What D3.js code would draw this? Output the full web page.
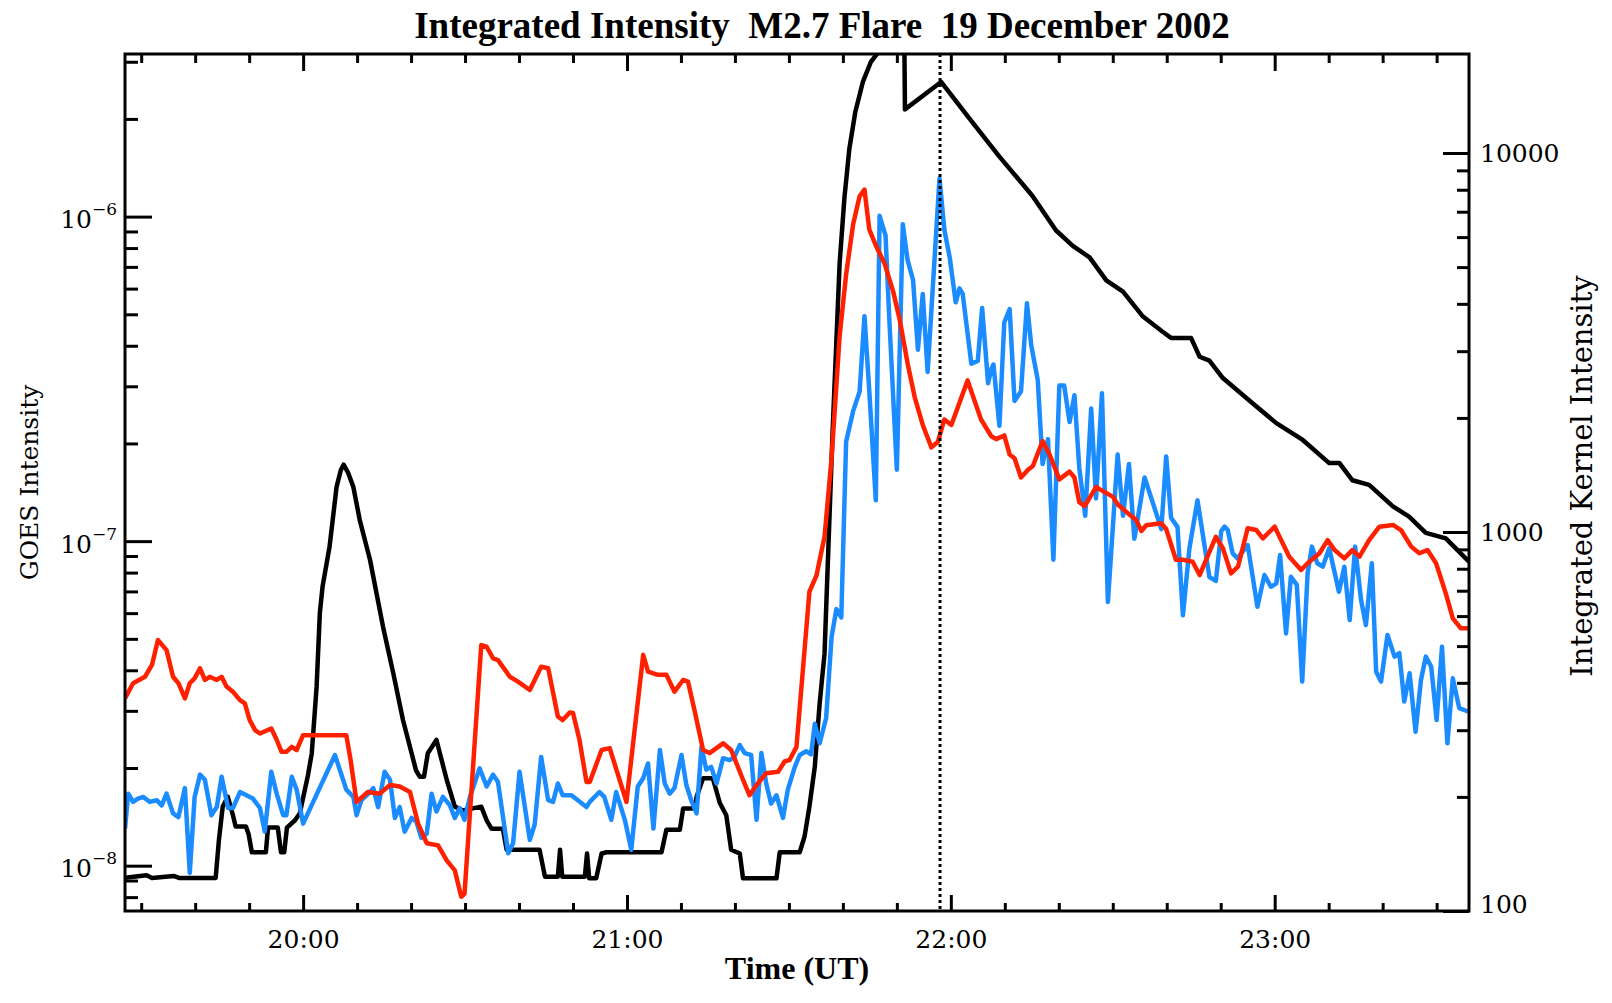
<!DOCTYPE html>
<html>
<head>
<meta charset="utf-8">
<script src="https://cdn.jsdelivr.net/npm/d3@7"></script>
<style>
  body { margin: 0; background: #fff; }
  svg { display: block; }
</style>
</head>
<body>
<svg id="chart" width="1612" height="1003"></svg>
<script>
// Time is in minutes after 19:00 UT, 19 Dec 2002
const timeRange = [27, 276];
const hourTicks = [60, 120, 180, 240];
const hourLabels = ['20:00', '21:00', '22:00', '23:00'];
const markerTime = 178; // dotted line, ~21:58

// GOES flux range (left axis) and kernel intensity range (right axis)
const goesRange = [7.25e-9, 3.17e-6];
const goesMajor = [1e-8, 1e-7, 1e-6];
const goesExponents = ['\u22128', '\u22127', '\u22126'];
const kernelRange = [100, 18250];
const kernelMajor = [100, 1000, 10000];

// GOES light curve [minute, W/m^2]
const goes = [
  [27.0, 9.17e-9], [31, 9.35e-9], [32, 9.17e-9], [36, 9.3e-9], [37, 9.17e-9], [43.8, 9.17e-9],
  [44.4, 1.20e-8], [45.1, 1.52e-8], [46.05, 1.63e-8], [47.0, 1.43e-8], [47.5, 1.32e-8], [49.4, 1.32e-8],
  [49.9, 1.25e-8], [50.5, 1.10e-8], [53.1, 1.10e-8], [53.5, 1.31e-8], [55.3, 1.31e-8], [55.9, 1.10e-8],
  [56.5, 1.10e-8], [57.0, 1.31e-8], [58.5, 1.38e-8], [59.4, 1.45e-8], [59.9, 1.59e-8], [60.9, 1.90e-8],
  [61.6, 2.22e-8], [62.5, 3.56e-8], [63.1, 6.01e-8], [63.6, 7.24e-8], [64.9, 9.62e-8], [66.2, 1.47e-7],
  [67.0, 1.66e-7], [67.5, 1.72e-7], [68.3, 1.63e-7], [69.3, 1.47e-7], [70.5, 1.16e-7], [72.4, 8.75e-8],
  [74.8, 5.45e-8], [76.7, 3.92e-8], [78.5, 2.81e-8], [80.1, 2.22e-8], [80.9, 1.97e-8], [81.6, 1.88e-8],
  [82.4, 1.88e-8], [83.1, 2.22e-8], [84.7, 2.44e-8], [86.6, 1.84e-8], [88.1, 1.52e-8], [89.6, 1.48e-8],
  [93.0, 1.52e-8], [94.0, 1.38e-8], [94.9, 1.30e-8], [97.0, 1.30e-8], [97.7, 1.12e-8], [103.8, 1.12e-8],
  [104.8, 9.25e-9], [107.2, 9.25e-9], [107.6, 1.12e-8], [108.0, 9.25e-9], [112.2, 9.25e-9], [112.6, 1.09e-8],
  [113.0, 9.14e-9], [114.3, 9.14e-9], [115.3, 1.09e-8], [116.2, 1.10e-8], [126.4, 1.10e-8], [127.3, 1.29e-8],
  [129.8, 1.29e-8], [130.4, 1.50e-8], [132.5, 1.50e-8], [132.9, 1.63e-8], [134.1, 1.86e-8], [135.9, 1.86e-8],
  [137.2, 1.56e-8], [138.4, 1.43e-8], [139.3, 1.12e-8], [140.9, 1.09e-8], [141.5, 9.14e-9], [147.7, 9.14e-9],
  [148.3, 1.10e-8], [152.0, 1.10e-8], [152.9, 1.23e-8], [153.8, 1.52e-8], [154.8, 2.02e-8], [155.7, 3.17e-8],
  [156.6, 4.50e-8], [158.1, 2.19e-7], [159.4, 7.19e-7], [160.3, 1.15e-6], [161.2, 1.62e-6], [162.3, 2.1e-6],
  [163.7, 2.6e-6], [165.2, 3.0e-6], [166.8, 3.25e-6], [169.2, 3.4e-6], [171.1, 3.35e-6], [171.4, 3.3e-6],
  [171.5, 2.14e-6], [178.2, 2.60e-6], [183.5, 2.0e-6], [189.0, 1.53e-6],
  [195.1, 1.16e-6], [199.5, 9.06e-7], [202.6, 8.13e-7], [205.7, 7.49e-7], [208.8, 6.36e-7], [211.9, 5.87e-7],
  [215.6, 4.92e-7], [219.3, 4.41e-7], [220.8, 4.23e-7], [224.5, 4.23e-7], [226.1, 3.70e-7], [227.9, 3.60e-7],
  [230.4, 3.18e-7], [235.9, 2.66e-7], [240.3, 2.31e-7], [245.2, 2.05e-7], [250.1, 1.74e-7], [252.0, 1.74e-7],
  [254.4, 1.54e-7], [257.5, 1.49e-7], [261.9, 1.28e-7], [264.9, 1.19e-7], [268.0, 1.06e-7], [271.7, 1.02e-7],
  [276.0, 8.64e-8]
];

// kernel intensity, red curve [minute, counts]
const kernelRed = [
  [27.0, 364], [28.5, 399], [30.7, 415], [32.0, 446], [33.1, 519], [34.7, 488], [35.9, 415], [36.9, 399],
  [38.1, 364], [39.0, 399], [39.9, 411], [40.9, 437], [41.8, 407], [42.7, 415], [44.0, 407], [44.9, 415],
  [45.8, 391], [47.0, 379], [48.3, 360], [49.2, 353], [50.1, 319], [51.1, 300], [52.0, 294], [54.1, 303],
  [55.1, 283], [56.0, 263], [56.9, 263], [57.9, 271], [58.8, 266], [60.0, 291], [68.0, 291], [68.8, 250],
  [69.9, 194], [72.0, 206], [74.2, 204], [76.1, 215], [77.9, 213], [79.8, 206], [81.3, 170], [82.9, 151],
  [85.0, 149], [86.6, 136], [88.1, 128], [89.3, 109], [89.9, 111], [93.0, 503], [94.0, 498], [95.2, 464],
  [96.1, 459], [98.3, 415], [99.8, 403], [102.0, 383], [104.1, 441], [105.4, 437], [107.2, 326], [108.1, 319],
  [109.4, 334], [110.0, 333], [111.2, 283], [112.5, 219], [113.1, 219], [115.3, 266], [116.8, 269], [119.9, 194],
  [123.0, 474], [123.9, 428], [125.7, 420], [127.3, 420], [128.8, 379], [130.4, 407], [131.3, 403], [132.5, 339],
  [134.1, 266], [135.3, 261], [137.8, 277], [139.3, 266], [141.5, 222], [142.7, 202], [144.0, 215], [145.8, 231],
  [148.0, 233], [149.2, 248], [150.1, 250], [151.4, 271], [153.8, 696], [155.1, 767], [156.6, 972], [157.9, 1563],
  [159.4, 3294], [160.6, 4782], [161.9, 6487], [163.1, 7688], [164.0, 8006], [164.9, 6275], [166.2, 5666], [167.7, 5120],
  [169.3, 4321], [170.5, 3648], [172.0, 2781], [173.3, 2270], [174.8, 1916], [176.4, 1672], [177.6, 1730], [178.8, 1981],
  [180.1, 1916], [181.6, 2194], [183.1, 2512], [185.6, 1981], [187.5, 1789], [188.4, 1758], [189.9, 1798], [190.9, 1601],
  [191.8, 1565], [193.0, 1393], [194.3, 1459], [195.2, 1493], [197.0, 1737], [198.3, 1601], [200.1, 1377], [202.0, 1443],
  [202.9, 1393], [203.8, 1198], [204.8, 1170], [206.9, 1314], [208.1, 1284], [210.0, 1240], [210.9, 1184], [212.5, 1130],
  [214.3, 1078], [215.3, 1006], [216.2, 1042], [219.0, 1054], [219.9, 1018], [221.7, 845], [223.0, 845], [224.8, 835],
  [226.1, 770], [227.6, 865], [229.1, 971], [230.4, 906], [231.9, 778], [233.2, 810], [235.0, 1023], [236.6, 1012],
  [237.8, 962], [240.0, 1033], [241.2, 952], [242.7, 861], [244.9, 794], [246.1, 827], [248.3, 879], [249.8, 952],
  [251.1, 896], [252.9, 852], [254.4, 896], [255.7, 861], [257.5, 952], [259.4, 1033], [261.9, 1044], [263.4, 1012],
  [265.3, 915], [266.8, 879], [268.3, 896], [269.9, 827], [271.7, 689], [273.0, 592], [274.5, 557], [275.8, 557]
];

// kernel intensity, blue curve [minute, counts]
const kernelBlue = [
  [27.0, 165], [27.6, 204], [28.5, 194], [29.4, 198], [30.4, 200], [31.6, 194], [32.9, 196], [33.8, 190],
  [34.7, 204], [35.9, 181], [36.9, 177], [38.1, 211], [39.0, 126], [39.9, 200], [40.9, 229], [41.8, 222],
  [43.0, 179], [44.0, 188], [44.9, 226], [46.1, 187], [47.0, 187], [48.3, 206], [50.7, 198], [52.0, 187],
  [52.9, 162], [54.1, 233], [55.1, 204], [56.3, 179], [56.9, 179], [57.9, 226], [58.8, 209], [60.0, 170],
  [65.9, 258], [68.0, 209], [69.3, 200], [69.9, 179], [70.8, 196], [72.4, 206], [73.0, 211], [73.9, 188],
  [75.1, 233], [76.1, 222], [77.0, 176], [77.9, 188], [78.8, 162], [80.1, 176], [81.0, 172], [81.9, 156],
  [82.9, 160], [83.8, 204], [84.7, 183], [85.9, 200], [87.2, 190], [88.1, 176], [89.0, 187], [89.9, 174],
  [90.9, 200], [92.7, 238], [94.0, 213], [95.2, 229], [96.1, 219], [98.0, 142], [98.9, 151], [100.1, 233],
  [102.0, 154], [102.9, 169], [104.1, 255], [105.4, 196], [106.3, 194], [107.2, 217], [108.1, 202], [109.7, 202],
  [110.9, 196], [112.5, 188], [113.1, 194], [114.9, 206], [115.8, 200], [117.1, 174], [118.0, 206], [119.6, 174],
  [120.8, 145], [122.0, 213], [123.0, 224], [123.9, 245], [124.9, 165], [126.1, 266], [127.0, 217], [127.9, 204],
  [128.8, 211], [130.1, 258], [131.0, 215], [131.9, 196], [132.9, 181], [133.8, 271], [134.7, 236], [135.6, 240],
  [136.6, 217], [137.8, 253], [139.0, 250], [139.9, 255], [140.9, 274], [141.8, 261], [143.0, 258], [144.0, 174],
  [144.9, 261], [145.8, 217], [146.7, 192], [147.7, 202], [148.9, 176], [149.8, 209], [151.1, 240], [152.0, 258],
  [153.2, 264], [154.1, 259], [154.8, 312], [155.7, 277], [156.9, 323], [157.9, 528], [158.8, 626], [159.7, 595],
  [160.6, 1730], [161.9, 2084], [163.1, 2347], [164.0, 3710], [164.9, 2347], [166.1, 1212], [166.8, 6829], [167.9, 6065],
  [168.6, 3648], [170.0, 1460], [171.1, 6487], [172.0, 5208], [173.0, 4623], [173.9, 3027], [174.8, 4248], [175.7, 2644],
  [177.9, 8570], [178.8, 6275], [179.8, 5297], [180.9, 4037], [181.6, 4395], [182.2, 4248], [183.8, 2781], [185.0, 2828],
  [185.8, 3901], [186.9, 2469], [187.5, 2689], [187.9, 2766], [189.0, 1906], [189.9, 3571], [190.9, 3873], [191.8, 2218],
  [193.0, 2350], [194.1, 4012], [194.9, 3107], [196.1, 2519], [197.0, 1511], [198.0, 1758], [199.0, 845], [200.1, 2434],
  [201.0, 2434], [202.0, 1951], [202.9, 2296], [203.8, 1476], [204.9, 1104], [206.0, 2117], [206.9, 1226], [208.0, 2323],
  [209.1, 654], [210.9, 1601], [211.9, 1104], [213.0, 1511], [214.0, 960], [215.9, 1393], [219.0, 1018], [219.9, 1583],
  [220.8, 1091], [222.0, 1030], [223.0, 603], [224.2, 906], [225.7, 1212], [227.9, 761], [229.1, 743], [230.1, 1006],
  [230.7, 1033], [231.3, 1012], [232.2, 879], [233.1, 852], [235.0, 924], [236.8, 635], [238.1, 770], [239.3, 717],
  [240.3, 732], [241.0, 870], [242.1, 540], [243.0, 762], [244.1, 725], [245.1, 403], [246.1, 778], [246.9, 915],
  [247.9, 827], [248.9, 810], [250.1, 906], [251.9, 696], [252.9, 810], [253.9, 586], [254.9, 915], [256.0, 662],
  [256.9, 568], [258.0, 827], [258.8, 428], [259.7, 403], [260.9, 535], [262.2, 469], [263.1, 479], [264.0, 357],
  [265.0, 424], [266.1, 297], [267.1, 407], [268.0, 469], [269.0, 441], [270.0, 319], [271.0, 498], [272.0, 277],
  [273.0, 411], [274.2, 343], [275.8, 336]
];

// Plot box
const plotLeft = 125, plotRight = 1469, plotTop = 54, plotBottom = 911;
const serif = "'DejaVu Serif', serif";
const times = "'Liberation Serif', 'Times New Roman', serif";

const svg = d3.select('#chart');

const x = d3.scaleLinear().domain(timeRange).range([plotLeft, plotRight]);
const yGoes = d3.scaleLog().domain(goesRange).range([plotBottom, plotTop]);
const yKernel = d3.scaleLog().domain(kernelRange).range([plotBottom, plotTop]);

// minor ticks
const minorTimes = d3.range(30, timeRange[1], 10).filter(t => t % 60 !== 0);
const logMinors = (lo, hi) => {
  const out = [];
  for (let e = Math.floor(Math.log10(lo)); e <= Math.ceil(Math.log10(hi)); e++) {
    for (let m = 2; m <= 9; m++) {
      const v = m * Math.pow(10, e);
      if (v > lo && v < hi) out.push(v);
    }
  }
  return out;
};

function styleAxis(g) {
  g.select('.domain').remove();
  g.selectAll('.tick line').attr('stroke', '#000').attr('stroke-width', 3);
  g.selectAll('.tick text')
    .attr('fill', '#000')
    .style('font-family', serif)
    .style('font-size', '25px');
}

// bottom axis
svg.append('g').attr('transform', `translate(0,${plotBottom})`)
  .call(d3.axisBottom(x).tickValues(minorTimes).tickSize(-8).tickFormat(''))
  .call(styleAxis);
svg.append('g').attr('transform', `translate(0,${plotBottom})`)
  .call(d3.axisBottom(x).tickValues(hourTicks).tickSize(-16).tickPadding(19)
    .tickFormat((d, i) => hourLabels[i]))
  .call(styleAxis);

// top axis
svg.append('g').attr('transform', `translate(0,${plotTop})`)
  .call(d3.axisTop(x).tickValues(minorTimes).tickSize(-9).tickFormat(''))
  .call(styleAxis);
svg.append('g').attr('transform', `translate(0,${plotTop})`)
  .call(d3.axisTop(x).tickValues(hourTicks).tickSize(-17).tickFormat(''))
  .call(styleAxis);

// left axis (GOES)
svg.append('g').attr('transform', `translate(${plotLeft},0)`)
  .call(d3.axisLeft(yGoes).tickValues(logMinors(goesRange[0], goesRange[1])).tickSize(-13).tickFormat(''))
  .call(styleAxis);
const leftMajor = svg.append('g').attr('transform', `translate(${plotLeft},0)`)
  .call(d3.axisLeft(yGoes).tickValues(goesMajor).tickSize(-27).tickPadding(8).tickFormat(''))
  .call(styleAxis);
leftMajor.selectAll('.tick text').each(function (d, i) {
  const t = d3.select(this).attr('dy', null).attr('y', 11);
  t.append('tspan').text('10');
  t.append('tspan').attr('dy', -13).style('font-size', '17px').text(goesExponents[i]);
});

// right axis (kernel)
svg.append('g').attr('transform', `translate(${plotRight},0)`)
  .call(d3.axisRight(yKernel).tickValues(logMinors(kernelRange[0], kernelRange[1])).tickSize(-12).tickFormat(''))
  .call(styleAxis);
svg.append('g').attr('transform', `translate(${plotRight},0)`)
  .call(d3.axisRight(yKernel).tickValues(kernelMajor).tickSize(-26).tickPadding(11).tickFormat(d3.format('d')))
  .call(styleAxis)
  .selectAll('.tick text').attr('dy', d => d === kernelRange[0] ? '0.05em' : '0.35em');

// data
svg.append('clipPath').attr('id', 'plotClip')
  .append('rect').attr('x', plotLeft).attr('y', plotTop)
  .attr('width', plotRight - plotLeft).attr('height', plotBottom - plotTop);

const plot = svg.append('g').attr('clip-path', 'url(#plotClip)');

const goesLine = d3.line().x(d => x(d[0])).y(d => yGoes(d[1]));
const kernelLine = d3.line().x(d => x(d[0])).y(d => yKernel(d[1]));

plot.append('path').datum(goes)
  .attr('d', goesLine).attr('fill', 'none').attr('stroke', '#000')
  .attr('stroke-width', 4.5).attr('stroke-linejoin', 'round');

plot.append('path').datum(kernelBlue)
  .attr('d', kernelLine).attr('fill', 'none').attr('stroke', '#1a8cff')
  .attr('stroke-width', 4.5).attr('stroke-linejoin', 'round');

plot.append('path').datum(kernelRed)
  .attr('d', kernelLine).attr('fill', 'none').attr('stroke', '#ff2000')
  .attr('stroke-width', 4.5).attr('stroke-linejoin', 'round');

// dotted marker
svg.append('line')
  .attr('x1', x(markerTime)).attr('x2', x(markerTime))
  .attr('y1', plotTop).attr('y2', plotBottom)
  .attr('stroke', '#000').attr('stroke-width', 3).attr('stroke-dasharray', '3,3');

// frame
svg.append('rect')
  .attr('x', plotLeft).attr('y', plotTop)
  .attr('width', plotRight - plotLeft).attr('height', plotBottom - plotTop)
  .attr('fill', 'none').attr('stroke', '#000').attr('stroke-width', 3);

// titles
svg.append('text')
  .attr('x', 822).attr('y', 38)
  .attr('text-anchor', 'middle')
  .style('font-family', times).style('font-weight', 'bold').style('font-size', '37px')
  .style('white-space', 'pre')
  .text('Integrated Intensity  M2.7 Flare  19 December 2002');

svg.append('text')
  .attr('x', (plotLeft + plotRight) / 2).attr('y', 979)
  .attr('text-anchor', 'middle')
  .style('font-family', times).style('font-weight', 'bold').style('font-size', '32px')
  .text('Time (UT)');

svg.append('text')
  .attr('transform', `translate(38,${(plotTop + plotBottom) / 2}) rotate(-90)`)
  .attr('text-anchor', 'middle')
  .style('font-family', serif).style('font-size', '25px')
  .text('GOES Intensity');

svg.append('text')
  .attr('transform', `translate(1592,476) rotate(-90)`)
  .attr('text-anchor', 'middle')
  .style('font-family', serif).style('font-size', '29px')
  .text('Integrated Kernel Intensity');
</script>
</body>
</html>
